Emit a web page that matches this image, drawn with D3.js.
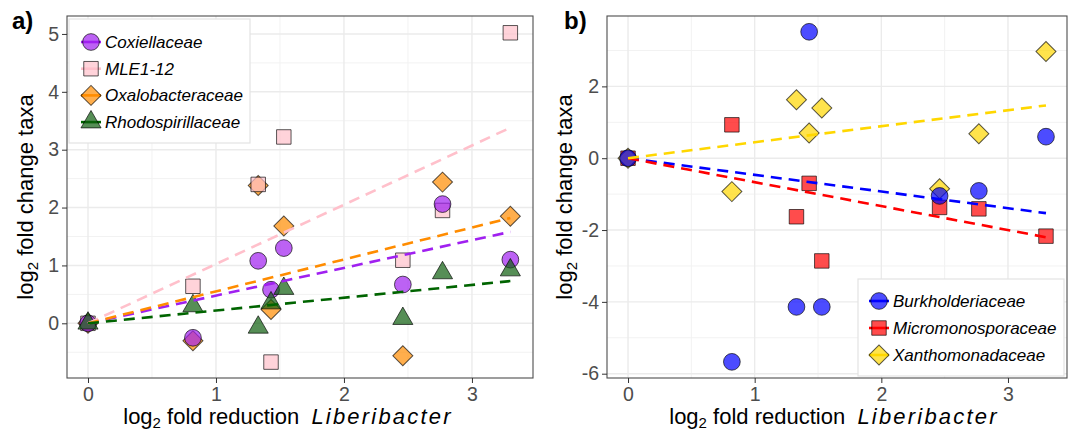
<!DOCTYPE html>
<html>
<head>
<meta charset="utf-8">
<script src="https://cdn.jsdelivr.net/npm/d3@7"></script>
<style>
  body { margin: 0; background: #fff; }
  svg { display: block; font-family: "Liberation Sans", Arial, sans-serif; }
</style>
</head>
<body>
<svg id="chart" width="1072" height="433"></svg>
<script>
// x positions shared by every taxon (log2 fold reduction Liberibacter)
const xVals = [0, 0.82, 1.33, 1.43, 1.53, 2.46, 2.77, 3.3];

// panel a
const taxaA = ["Coxiellaceae", "MLE1-12", "Oxalobacteraceae", "Rhodospirillaceae"];
const coxiellaceae = [0, -0.25, 1.08, 0.58, 1.3, 0.67, 2.06, 1.1];
const mle112 = [0, 0.64, 2.4, -0.67, 3.22, 1.09, 1.95, 5.02];
const oxalobacteraceae = [0, -0.3, 2.38, 0.24, 1.68, -0.56, 2.44, 1.85];
const rhodospirillaceae = [0, 0.3, -0.07, 0.35, 0.6, 0.08, 0.87, 0.92];
const fitEndA = [1.58, 3.38, 1.82, 0.73]; // trend value at x = 3.3

// panel b
const taxaB = ["Burkholderiaceae", "Micromonosporaceae", "Xanthomonadaceae"];
const burkholderiaceae = [0, -5.67, -4.14, 3.52, -4.14, -1.05, -0.91, 0.6];
const micromonosporaceae = [0, 0.93, -1.63, -0.7, -2.86, -1.37, -1.41, -2.17];
const xanthomonadaceae = [0, -0.93, 1.63, 0.7, 1.4, -0.85, 0.68, 2.97];
const fitEndB = [-1.53, -2.2, 1.47];

const xTicks = [0, 1, 2, 3];
const yTicksA = [0, 1, 2, 3, 4, 5];
const yTicksB = [-6, -4, -2, 0, 2];

const svg = d3.select("#chart");

function shapePath(shape) {
  if (shape == "circle") return d3.symbol(d3.symbolCircle, 220)();
  if (shape == "square") return d3.symbol(d3.symbolSquare, 210)();
  if (shape == "diamond") return d3.symbol(d3.symbolSquare, 200)();
  return d3.symbol(d3.symbolTriangle, 175)();
}

function drawPoint(g, shape, fill, px, py) {
  g.append("path")
    .attr("d", shapePath(shape))
    .attr("transform", `translate(${px},${py})` + (shape == "diamond" ? " rotate(45)" : ""))
    .attr("fill", fill)
    .attr("fill-opacity", 0.7)
    .attr("stroke", "#000")
    .attr("stroke-opacity", 0.65)
    .attr("stroke-width", 1);
}

function drawPanel(cfg) {
  const x = d3.scaleLinear().domain(cfg.xDomain).range([cfg.left, cfg.right]);
  const y = d3.scaleLinear().domain(cfg.yDomain).range([cfg.bottom, cfg.top]);
  const g = svg.append("g");

  // grid
  const xMinor = [0.5, 1.5, 2.5];
  g.selectAll(".xminor").data(xMinor).join("line")
    .attr("x1", d => x(d)).attr("x2", d => x(d))
    .attr("y1", cfg.top).attr("y2", cfg.bottom)
    .attr("stroke", "#F2F2F2").attr("stroke-width", 1);
  g.selectAll(".yminor").data(cfg.yMinor).join("line")
    .attr("x1", cfg.left).attr("x2", cfg.right)
    .attr("y1", d => y(d)).attr("y2", d => y(d))
    .attr("stroke", "#F2F2F2").attr("stroke-width", 1);
  g.selectAll(".xmajor").data(xTicks).join("line")
    .attr("x1", d => x(d)).attr("x2", d => x(d))
    .attr("y1", cfg.top).attr("y2", cfg.bottom)
    .attr("stroke", "#EBEBEB").attr("stroke-width", 1.4);
  g.selectAll(".ymajor").data(cfg.yTicks).join("line")
    .attr("x1", cfg.left).attr("x2", cfg.right)
    .attr("y1", d => y(d)).attr("y2", d => y(d))
    .attr("stroke", "#EBEBEB").attr("stroke-width", 1.4);

  // points
  cfg.order.forEach(i => {
    const s = cfg.series[i];
    s.values.forEach((v, j) => drawPoint(g, s.shape, s.color, x(xVals[j]), y(v)));
  });

  // trend lines
  cfg.series.forEach(s => {
    g.append("line")
      .attr("x1", x(0)).attr("y1", y(0))
      .attr("x2", x(xVals[xVals.length - 1])).attr("y2", y(s.fitEnd))
      .attr("stroke", s.line).attr("stroke-width", 2.6)
      .attr("stroke-dasharray", "11,7");
  });

  // border
  g.append("rect")
    .attr("x", cfg.left).attr("y", cfg.top)
    .attr("width", cfg.right - cfg.left).attr("height", cfg.bottom - cfg.top)
    .attr("fill", "none").attr("stroke", "#4D4D4D").attr("stroke-width", 1.1);

  // axes
  const xAxis = g.append("g")
    .attr("transform", `translate(0,${cfg.bottom})`)
    .call(d3.axisBottom(x).tickValues(xTicks).tickSize(5).tickPadding(4).tickFormat(d3.format("d")));
  const yAxis = g.append("g")
    .attr("transform", `translate(${cfg.left},0)`)
    .call(d3.axisLeft(y).tickValues(cfg.yTicks).tickSize(5).tickPadding(3).tickFormat(d => d < 0 ? "-" + Math.abs(d) : d));
  [xAxis, yAxis].forEach(a => {
    a.select(".domain").remove();
    a.selectAll("line").attr("stroke", "#333");
    a.selectAll("text").attr("fill", "#4D4D4D").style("font-size", "19.5px")
      .style("font-family", "Liberation Sans, Arial, sans-serif");
  });

  // axis titles
  const xt = g.append("text")
    .attr("x", cfg.xTitleX).attr("y", 424)
    .attr("text-anchor", "middle")
    .style("white-space", "pre")
    .style("font-size", "22px").attr("fill", "#000");
  xt.append("tspan").text("log");
  xt.append("tspan").text("2").style("font-size", "15px").attr("dy", 4);
  xt.append("tspan").text(" fold reduction  ").attr("dy", -4);
  xt.append("tspan").text("Liberibacter").style("font-style", "italic").style("letter-spacing", "2.2px");

  const yt = g.append("text")
    .attr("transform", `translate(${cfg.yTitleX},${(cfg.top + cfg.bottom) / 2}) rotate(-90)`)
    .attr("text-anchor", "middle")
    .style("white-space", "pre")
    .style("font-size", "22px").attr("fill", "#000");
  yt.append("tspan").text("log");
  yt.append("tspan").text("2").style("font-size", "15px").attr("dy", 5);
  yt.append("tspan").text(" fold change taxa").attr("dy", -5);

  // panel tag
  g.append("text")
    .attr("x", cfg.tagX).attr("y", 29)
    .style("font-size", "24px").style("font-weight", "bold")
    .text(cfg.tag);

  // legend
  const L = cfg.legend;
  g.append("rect")
    .attr("x", L.x).attr("y", L.y).attr("width", L.w).attr("height", L.h)
    .attr("fill", "#fff").attr("stroke", "#E3E3E3").attr("stroke-width", 1.2);
  cfg.series.forEach((s, i) => {
    const cy = L.firstRow + i * L.step;
    g.append("line")
      .attr("x1", L.keyX - 10).attr("x2", L.keyX + 10)
      .attr("y1", cy).attr("y2", cy)
      .attr("stroke", s.line).attr("stroke-width", 2.6);
    drawPoint(g, s.shape, s.color, L.keyX, cy);
    g.append("text")
      .attr("x", L.keyX + 14).attr("y", cy + 6)
      .style("font-size", "17px").style("font-style", "italic")
      .text(s.name);
  });
}

drawPanel({
  left: 67, right: 533, top: 16, bottom: 378,
  xDomain: [-0.164, 3.477], yDomain: [-0.945, 5.31],
  yTicks: yTicksA, yMinor: [-0.5, 0.5, 1.5, 2.5, 3.5, 4.5],
  series: [
    { name: taxaA[0], values: coxiellaceae, fitEnd: fitEndA[0], color: "#A020F0", line: "#A020F0", shape: "circle" },
    { name: taxaA[1], values: mle112, fitEnd: fitEndA[1], color: "#FFC0CB", line: "#FFC0CB", shape: "square" },
    { name: taxaA[2], values: oxalobacteraceae, fitEnd: fitEndA[2], color: "#FF8C00", line: "#FF8C00", shape: "diamond" },
    { name: taxaA[3], values: rhodospirillaceae, fitEnd: fitEndA[3], color: "#0E5E0E", line: "#006400", shape: "triangle" }
  ],
  order: [2, 1, 0, 3],
  legend: { x: 69, y: 19, w: 181, h: 124, keyX: 91, firstRow: 42, step: 26.7 },
  tag: "a)", tagX: 12,
  xTitleX: 288, yTitleX: 33
});

drawPanel({
  left: 607, right: 1067, top: 16, bottom: 378,
  xDomain: [-0.166, 3.466], yDomain: [-6.12, 3.96],
  yTicks: yTicksB, yMinor: [-5, -3, -1, 1, 3],
  series: [
    { name: taxaB[0], values: burkholderiaceae, fitEnd: fitEndB[0], color: "#0000FF", line: "#0000FF", shape: "circle" },
    { name: taxaB[1], values: micromonosporaceae, fitEnd: fitEndB[1], color: "#FF0000", line: "#FF0000", shape: "square" },
    { name: taxaB[2], values: xanthomonadaceae, fitEnd: fitEndB[2], color: "#FFD700", line: "#FFD700", shape: "diamond" }
  ],
  order: [1, 2, 0],
  legend: { x: 858, y: 279, w: 206, h: 97, keyX: 879, firstRow: 301, step: 27 },
  tag: "b)", tagX: 564,
  xTitleX: 834, yTitleX: 572
});
</script>
</body>
</html>
